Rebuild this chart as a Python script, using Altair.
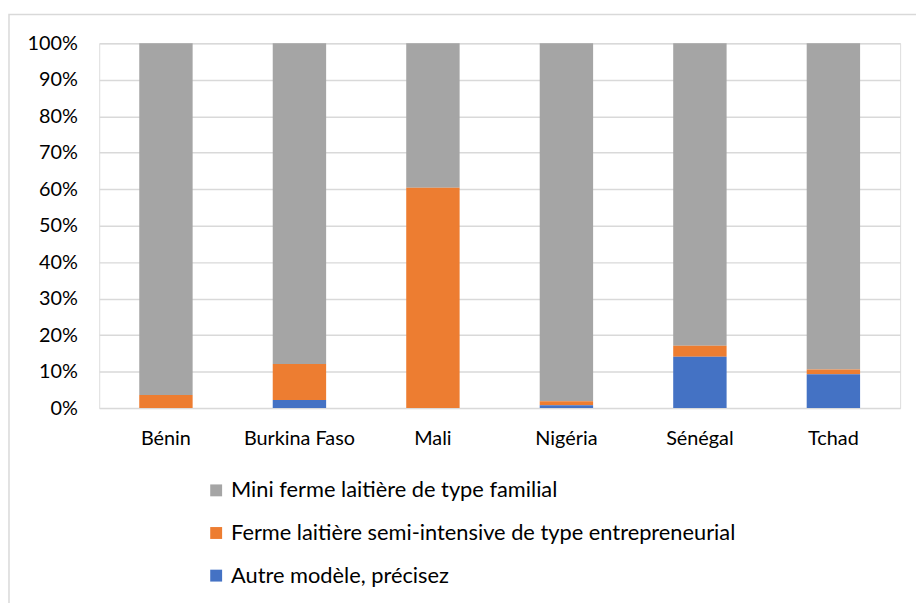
import altair as alt
import pandas as pd

countries = ["Bénin", "Burkina Faso", "Mali", "Nigéria", "Sénégal", "Tchad"]
series = [
    "Mini ferme laitière de type familial",
    "Ferme laitière semi-intensive de type entrepreneurial",
    "Autre modèle, précisez",
]
mini = [96.4, 87.9, 39.6, 98.1, 82.9, 89.4]
ferme = [3.6, 9.9, 60.4, 1.1, 3.0, 1.3]
autre = [0.0, 2.2, 0.0, 0.8, 14.1, 9.3]
colors = ["#A5A5A5", "#ED7D31", "#4472C4"]

rows = []
for i, c in enumerate(countries):
    for k, (s, v) in enumerate(zip(series, [mini, ferme, autre])):
        rows.append({"pays": c, "serie": s, "val": v[i] / 100, "ord": 2 - k})
df = pd.DataFrame(rows)

FONT = "Lato"

bars = alt.Chart(df).mark_bar().encode(
    x=alt.X("pays:N", sort=countries, title=None,
            scale=alt.Scale(paddingInner=0.6, paddingOuter=0.3),
            axis=alt.Axis(labelAngle=0, labelFontSize=20, labelColor="#000000",
                          labelFont=FONT, ticks=False, domain=False, labelPadding=21)),
    y=alt.Y("val:Q", stack="zero", title=None,
            scale=alt.Scale(domain=[0, 1], nice=False),
            axis=alt.Axis(format="%", values=[i / 10 for i in range(11)],
                          labelFontSize=20, labelColor="#000000", labelFont=FONT,
                          ticks=False, domain=False, labelPadding=22,
                          gridColor="#D9D9D9", gridWidth=1.5)),
    color=alt.Color("serie:N", sort=series,
                    scale=alt.Scale(domain=series, range=colors),
                    legend=alt.Legend(title=None, orient="none", legendX=107, legendY=440,
                                      direction="vertical", symbolType="square",
                                      symbolSize=144, symbolStrokeWidth=0,
                                      labelFontSize=22, labelFont=FONT, labelColor="#000000",
                                      labelLimit=0, rowPadding=21, labelOffset=4)),
    order=alt.Order("ord:Q"),
)

frame = alt.Chart(alt.Data(values=[{}])).mark_rect(
    fill=None, stroke="#D9D9D9", strokeWidth=1.5, clip=False
).encode(
    x=alt.value(-91), x2=alt.value(840), y=alt.value(-29), y2=alt.value(620)
)

chart = alt.layer(frame, bars).properties(
    width=808, height=368,
    padding={"left": 92, "top": 33, "right": 16, "bottom": 194},
    autosize=alt.AutoSizeParams(type="none"),
).configure_view(stroke=None).configure(background="#ffffff")

chart.save("out.html", embed_options={"renderer": "svg", "actions": False})
